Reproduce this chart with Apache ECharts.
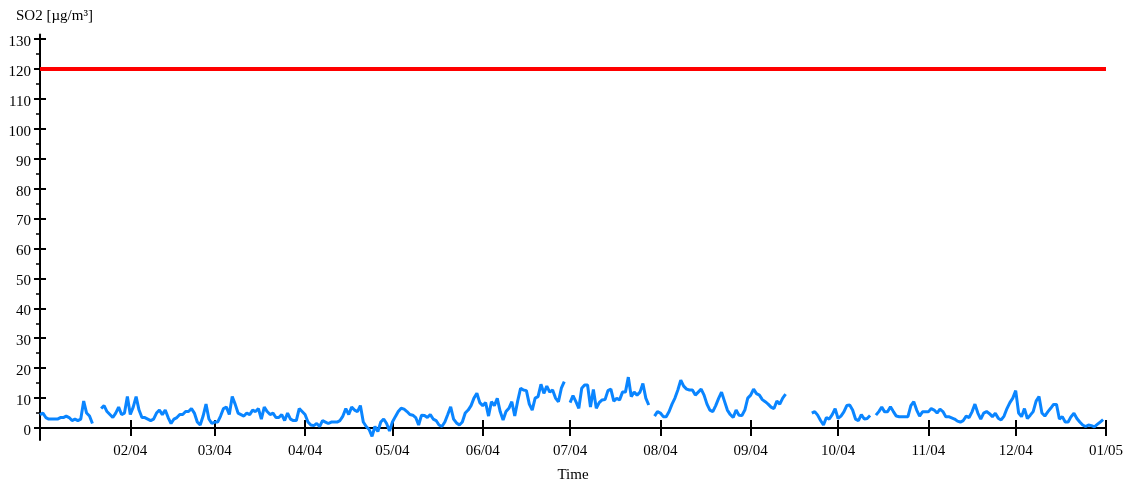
<!DOCTYPE html>
<html><head><meta charset="utf-8">
<script src="https://cdn.jsdelivr.net/npm/echarts@6/dist/echarts.min.js"></script>
<style>html,body{margin:0;padding:0;background:#fff}#c{width:1133px;height:481px}</style>
</head><body><div id="c"></div>
<script>
// Daily SO2 means, 2004 (µg/m³); null = no data
const so2Jan2004 = [4.5,5,3.5,3,3,3,3,3.5,3.5,4,3.5,2.5,3,2.5,3,9,5,4,1.5,null,null,6.5,7.5,5.5,4.5,3.5,5,7,4.5,5,10.5];
const so2Feb2004 = [4.5,7,10.5,6,3.5,3.5,3,2.5,3,5,6,4.5,6,3.5,1.5,3,3.5,4.5,4.5,5.5,5.5,6.5,5,2,1,4,8,3,1.5];
const so2Mar2004 = [2,2,4,6.5,7,4.5,10.5,8,5,4.5,4,5,4.5,6,5.5,6.5,3,7,5.5,4.5,5,3.5,3.5,4.5,2.5,5,3,2.5,2.5,6.5,5.5];
const so2Apr2004 = [4.5,2,1,0.8,1.5,0.5,2.5,2,1.5,2,2,2,2.5,4,6.5,4.5,7,6,5.5,7.5,2,0.5,-0.5,-2.8,0.5,-1.2,2,3,1.5,-1];
const so2May2004 = [2,3.8,5.5,6.6,6.3,5.5,4.5,4.3,3.5,1,4.3,4.2,3.5,4.5,3,2.5,1,0.5,2,4.5,7.1,3,1.7,1,2,5,6,7.5,10,11.6,8.5];
const so2Jun2004 = [7.5,8.5,4,8.8,7.5,9.9,5.5,2.7,5.5,6.6,8.8,4,9,13.3,12.7,12.5,8,6,10,10.5,14.6,11.6,14,12,12.7,10,8.8,13.3,15.5,null];
const so2Jul2004 = [8.5,10.8,8.8,6.6,13.3,14.4,14.4,7,12.9,6.6,8.5,9.4,9.5,12.5,13,9,9.9,9.4,12,12,17,10.5,12,11,12,14.9,10,7.7,null,4,5.5];
const so2Aug2004 = [5,3.8,3.8,5.5,8,10,12.7,16,14,13,12.7,12.7,11,12,13,11,8,6,5.5,7.5,9.9,12,9,6,4.5,3.5,6,4.3,4.2,6,10];
const so2Sep2004 = [11,13,11.5,11,9.5,8.8,8,7,6.5,9,8,10,11.3,null,null,null,null,null,null,null,null,5,5.5,4.3,2.5,1,3.5,3,4.5,6.5];
const so2Oct2004 = [3.2,4,5.4,7.5,7.7,6,3,2.5,4.5,3,3.2,4.2,null,4.3,5.5,7,5.4,5.4,7.1,5.5,4,3.8,3.8,3.8,3.8,7.5,8.8,6,4,5.4,5.4];
const so2Nov2004 = [5.4,6.5,6,5,6.3,5.5,3.8,3.8,3.4,3,2.3,2,2.5,4,3.5,5.4,8,5,3,5,5.5,4.8,3.8,4.9,3.3,2.7,4,6.5,8.5,10];
const so2Dec2004 = [12.5,5,3.8,6.5,3.2,4.3,5.5,9,10.5,5,4,5.4,6.6,7.9,7.9,3,3.8,2,2,3.8,4.9,3.2,2,1,0.5,1,0.8,0.4,1.2,2,2.8];
const so2Jan2005 = [null];
const limitValue = 120;
const startYear = 2004;
const dayCount = 367;

const dates = [];
for (let i = 0; i < dayCount; i++) {
  const d = new Date(Date.UTC(startYear, 0, 1 + i));
  dates.push(d.toISOString().slice(0, 10));
}
const so2 = [].concat(so2Jan2004, so2Feb2004, so2Mar2004, so2Apr2004, so2May2004, so2Jun2004,
  so2Jul2004, so2Aug2004, so2Sep2004, so2Oct2004, so2Nov2004, so2Dec2004, so2Jan2005);

const isTick = (idx, val) => val.slice(8) === '01';
const isLabel = (idx, val) => idx > 0 && val.slice(8) === '01';
const fmt = v => v.slice(5, 7) + '/' + v.slice(2, 4);
const font = "'Liberation Serif','DejaVu Serif',serif";
const black = '#000';
const txt = {fontFamily: font, fontSize: 15, color: black};

const chart = echarts.init(document.getElementById('c'), null, {renderer: 'canvas'});
chart.setOption({
  animation: false,
  backgroundColor: '#fff',
  title: {text: 'SO2 [µg/m³]', left: 11, top: 4, textStyle: Object.assign({fontWeight: 'normal'}, txt)},
  grid: [
    {left: 40, right: 27, top: 39, height: 389, containLabel: false, outerBoundsMode: 'none'},
    {left: 40, right: 27, top: 34.5, height: 405.5, containLabel: false, outerBoundsMode: 'none'}
  ],
  xAxis: [
    {gridIndex: 0, type: 'category', data: dates, boundaryGap: false,
     axisLine: {show: true, lineStyle: {color: black, width: 2}},
     axisTick: {show: true, interval: isTick, length: 8, lineStyle: {color: black, width: 2}},
     axisLabel: Object.assign({interval: isLabel, formatter: fmt, margin: 16}, txt),
     splitLine: {show: false},
     name: 'Time', nameLocation: 'middle', nameGap: 40, nameTextStyle: txt},
    {gridIndex: 0, type: 'category', data: dates, boundaryGap: false, position: 'bottom',
     axisLine: {show: false},
     axisTick: {show: true, inside: true, interval: isTick, length: 8, lineStyle: {color: black, width: 2}},
     axisLabel: {show: false}, splitLine: {show: false}},
    {gridIndex: 1, type: 'category', data: dates, boundaryGap: false, show: false}
  ],
  yAxis: [
    {gridIndex: 0, type: 'value', min: 0, max: 130, interval: 10,
     axisLine: {show: false},
     axisTick: {show: true, length: 6, lineStyle: {color: black, width: 2}},
     minorTick: {show: true, splitNumber: 2, length: 4, lineStyle: {color: black, width: 1.5}},
     axisLabel: Object.assign({margin: 9, verticalAlign: 'top', lineHeight: 6}, txt),
     splitLine: {show: false}, minorSplitLine: {show: false}},
    {gridIndex: 0, type: 'value', min: 0, max: 130, interval: 10, position: 'left',
     axisLine: {show: false},
     axisTick: {show: true, inside: true, length: 6, lineStyle: {color: black, width: 2}},
     axisLabel: {show: false}, splitLine: {show: false}},
    {gridIndex: 1, type: 'value', min: -4, max: 131.5,
     axisLine: {show: true, lineStyle: {color: black, width: 2}},
     axisTick: {show: false}, axisLabel: {show: false}, splitLine: {show: false}}
  ],
  series: [{
    type: 'line', xAxisIndex: 2, yAxisIndex: 2, data: so2,
    showSymbol: false, connectNulls: false,
    lineStyle: {color: '#0a85ff', width: 3},
    itemStyle: {color: '#0a85ff'},
    markLine: {
      silent: true, symbol: 'none', label: {show: false},
      lineStyle: {color: '#ff0000', width: 4, type: 'solid'},
      data: [{yAxis: limitValue}]
    }
  }]
});
</script>
</body></html>
